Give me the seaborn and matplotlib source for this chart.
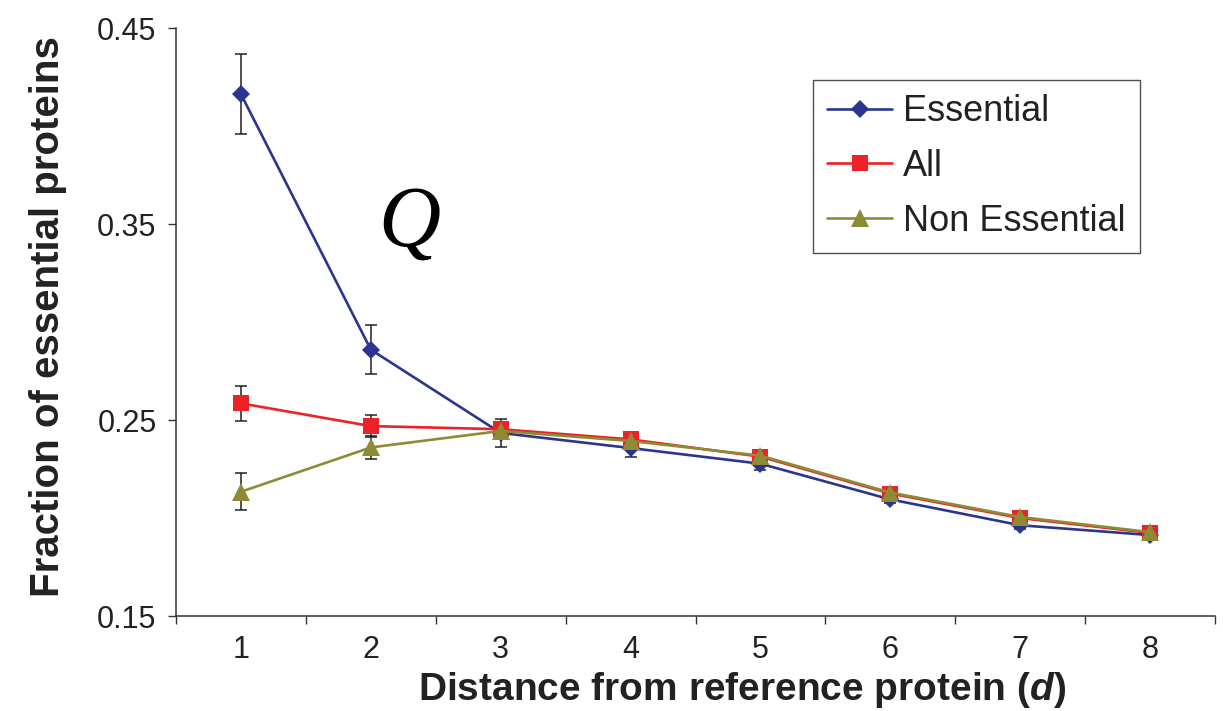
import numpy as np
import pandas as pd
import matplotlib
matplotlib.use("Agg")
import matplotlib.pyplot as plt
import seaborn as sns

# ---- data ----
distance = [1, 2, 3, 4, 5, 6, 7, 8]
essential = [0.4163, 0.2859, 0.2434, 0.2357, 0.2277, 0.2095, 0.1963, 0.1913]
essential_err = [0.0205, 0.0125, 0.0070, 0.0045, 0.0030, 0.0020, 0.0020, 0.0015]
all_prot = [0.2585, 0.2469, 0.2453, 0.2401, 0.2313, 0.2125, 0.2000, 0.1924]
all_err = [0.0090, 0.0055, 0.0030, 0.0020, 0.0020, 0.0015, 0.0015, 0.0010]
non_essential = [0.2134, 0.2360, 0.2444, 0.2393, 0.2318, 0.2130, 0.2005, 0.1928]
non_essential_err = [0.0094, 0.0059, 0.0030, 0.0020, 0.0020, 0.0015, 0.0015, 0.0010]
series_names = ["Essential", "All", "Non Essential"]
y_ticks = [0.15, 0.25, 0.35, 0.45]
y_tick_labels = ["0.15", "0.25", "0.35", "0.45"]

colors = {"Essential": "#2B3590", "All": "#EC2228", "Non Essential": "#8D8B34"}
markers = {"Essential": "D", "All": "s", "Non Essential": "^"}
msizes = {"Essential": 8.8, "All": 11.5, "Non Essential": 12.5}

df = pd.DataFrame({
    "d": distance * 3,
    "frac": essential + all_prot + non_essential,
    "err": essential_err + all_err + non_essential_err,
    "series": sum([[s] * len(distance) for s in series_names], []),
})

sns.set_style("ticks")
plt.rcParams["font.family"] = ["Liberation Sans", "DejaVu Sans"]
plt.rcParams["mathtext.fontset"] = "custom"
plt.rcParams["mathtext.it"] = "Liberation Sans:bold:italic"
plt.rcParams["mathtext.rm"] = "Liberation Sans:bold"

fig = plt.figure(figsize=(12.23, 7.11), dpi=100)
ax = fig.add_axes([0.1439, 0.1336, 0.9935 - 0.1439, 0.9606 - 0.1336])

# error bars (behind markers)
for s in series_names:
    sub = df[df["series"] == s]
    ax.errorbar(sub["d"], sub["frac"], yerr=sub["err"], fmt="none",
                ecolor="#222222", elinewidth=1.1, capsize=4.3, capthick=1.1,
                zorder=1)

sns.lineplot(data=df, x="d", y="frac", hue="series", style="series",
             hue_order=series_names, style_order=series_names,
             palette=colors, markers=markers, dashes=False,
             linewidth=1.9, markeredgewidth=0, ax=ax, legend=False,
             zorder=3)

lines = [l for l in ax.get_lines() if l.get_marker() in ("D", "s", "^")]
handles = []
for l in lines:
    m = l.get_marker()
    name = {"D": "Essential", "s": "All", "^": "Non Essential"}[m]
    l.set_markersize(msizes[name])
    l.set_markeredgewidth(0)
    l.set_label(name)
    handles.append(l)

ax.set_xlim(0.5, 8.5)
ax.set_ylim(0.15, 0.45)
ax.set_yticks(y_ticks)
ax.set_yticklabels(y_tick_labels)
ax.set_xticks(distance)
ax.set_xticklabels([str(d) for d in distance])
ax.set_xticks(np.arange(0.5, 9.0, 1.0), minor=True)

ax.tick_params(axis="y", which="major", direction="out", length=6, width=1.0,
               color="#333333", labelsize=22, pad=8, labelcolor="#222222")
ax.tick_params(axis="x", which="major", length=0, labelsize=22, pad=14,
               labelcolor="#222222")
ax.tick_params(axis="x", which="minor", direction="out", length=6, width=1.0,
               color="#333333")

for sp in ["top", "right"]:
    ax.spines[sp].set_visible(False)
for sp in ["left", "bottom"]:
    ax.spines[sp].set_color("#333333")
    ax.spines[sp].set_linewidth(1.1)

ax.set_ylabel("Fraction of essential proteins", fontsize=29, fontweight="bold",
              color="#222222")
ax.yaxis.set_label_coords(-0.105, 0.51)
ax.set_xlabel(r"Distance from reference protein ($d$)", fontsize=28,
              fontweight="bold", color="#222222")
ax.xaxis.set_label_coords(0.545, -0.092)

ax.text(0.225, 0.63, "Q", transform=ax.transAxes, ha="center", va="baseline",
        fontsize=62, fontstyle="italic", family=["Liberation Serif", "DejaVu Serif"],
        color="black")

leg = ax.legend(handles=handles, labels=series_names, loc="upper left",
                bbox_to_anchor=(0.613, 0.912), borderaxespad=0, fontsize=26,
                frameon=True, fancybox=False, edgecolor="#222222",
                handlelength=1.8, handletextpad=0.3, labelspacing=0.55,
                borderpad=0.4)
leg.get_frame().set_linewidth(1.0)
for t in leg.get_texts():
    t.set_color("#222222")

fig.savefig("out.png", dpi=100)
